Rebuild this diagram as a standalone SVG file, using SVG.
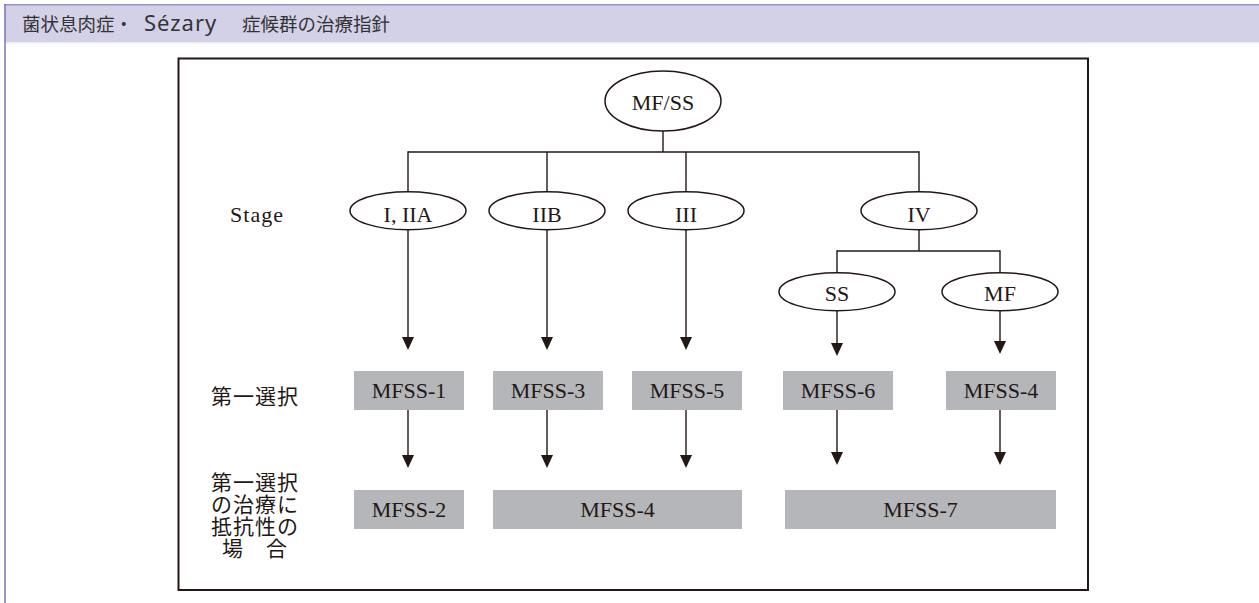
<svg xmlns="http://www.w3.org/2000/svg" width="1259" height="603" viewBox="0 0 1259 603">
<defs>
<style>
.ln{stroke:#231815;stroke-width:1.4;fill:none}
.ar{stroke:#231815;stroke-width:1.4;fill:none;marker-end:url(#ah)}
.el{fill:#fff;stroke:#231815;stroke-width:1.5}
.bx{fill:#b5b6b9}
.t{font-size:22px;fill:#231815;text-anchor:middle}
.j{font-size:21px;fill:#231815;text-anchor:middle;letter-spacing:1px}
.h{font-size:18.5px;fill:#333}
</style>
<marker id="ah" viewBox="0 0 13 12" refX="7" refY="6" markerWidth="13" markerHeight="12" markerUnits="userSpaceOnUse" orient="auto">
<path d="M0,0 L13,6 L0,12 Z" fill="#231815"/>
</marker>
</defs>
<rect x="0" y="0" width="1259" height="603" fill="#fff"/>
<g id="header">
<rect x="5" y="5" width="1254" height="37" fill="#d3d1e7"/>
<rect x="5" y="42" width="1254" height="1.5" fill="#ecebf4"/>
<line x1="4" y1="4.8" x2="1259" y2="4.8" stroke="#9a92c6" stroke-width="1.6"/>
<line x1="5" y1="4" x2="5" y2="603" stroke="#7c71b6" stroke-width="1.5"/>
<text class="h" font-family="'Noto Sans CJK JP', 'Noto Sans CJK SC', sans-serif" x="22" y="31">菌状息肉症・<tspan x="144" font-size="22" letter-spacing="1" font-family="'Noto Sans', 'Liberation Sans', sans-serif">Sézary</tspan><tspan x="242">症候群の治療指針</tspan></text>
</g>
<rect id="frame" x="178.5" y="58.5" width="909.5" height="531.5" fill="none" stroke="#231815" stroke-width="2"/>
<g id="labels" font-family="'Liberation Serif', 'DejaVu Serif', 'Times New Roman', serif">
<text class="t" x="257" y="222" letter-spacing="1">Stage</text>
<text class="j" font-family="'Noto Sans CJK JP', 'Noto Sans CJK SC', sans-serif" x="255" y="404">第一選択</text>
<text class="j" font-family="'Noto Sans CJK JP', 'Noto Sans CJK SC', sans-serif" x="255" y="490">第一選択<tspan x="255" dy="22">の治療に</tspan><tspan x="255" dy="22">抵抗性の</tspan><tspan x="255" dy="22">場　合</tspan></text>
</g>
<g id="connectors">
<line class="ln" x1="663" y1="131" x2="663" y2="152"/>
<line class="ln" x1="408" y1="152" x2="919" y2="152"/>
<line class="ln" x1="408" y1="151.3" x2="408" y2="192"/>
<line class="ln" x1="547" y1="152" x2="547" y2="192"/>
<line class="ln" x1="686" y1="152" x2="686" y2="192"/>
<line class="ln" x1="919" y1="151.3" x2="919" y2="192"/>
<line class="ar" x1="408" y1="229.7" x2="408" y2="344"/>
<line class="ar" x1="547" y1="229.7" x2="547" y2="344"/>
<line class="ar" x1="686" y1="229.7" x2="686" y2="344"/>
<line class="ln" x1="919" y1="229.7" x2="919" y2="251"/>
<line class="ln" x1="837" y1="251" x2="1000" y2="251"/>
<line class="ln" x1="837" y1="250.3" x2="837" y2="273"/>
<line class="ln" x1="1000" y1="250.3" x2="1000" y2="273"/>
<line class="ar" x1="837" y1="310.7" x2="837" y2="350"/>
<line class="ar" x1="1000" y1="310.7" x2="1000" y2="348"/>
<line class="ar" x1="408" y1="410" x2="408" y2="462"/>
<line class="ar" x1="547" y1="410" x2="547" y2="462"/>
<line class="ar" x1="686" y1="410" x2="686" y2="462"/>
<line class="ar" x1="837" y1="410" x2="837" y2="459"/>
<line class="ar" x1="1000" y1="410" x2="1000" y2="459"/>
</g>
<g id="nodes" font-family="'Liberation Serif', 'DejaVu Serif', 'Times New Roman', serif">
<g id="n-mfss"><ellipse class="el" cx="663" cy="101" rx="58" ry="30"/><text class="t" x="663" y="110">MF/SS</text></g>
<g id="n-i-iia"><ellipse class="el" cx="408" cy="210.7" rx="58" ry="19"/><text class="t" x="408" y="222">I, IIA</text></g>
<g id="n-iib"><ellipse class="el" cx="547" cy="210.7" rx="58" ry="19"/><text class="t" x="547" y="222">IIB</text></g>
<g id="n-iii"><ellipse class="el" cx="686" cy="210.7" rx="58" ry="19"/><text class="t" x="686" y="222">III</text></g>
<g id="n-iv"><ellipse class="el" cx="919" cy="210.7" rx="58" ry="19"/><text class="t" x="919" y="222">IV</text></g>
<g id="n-ss"><ellipse class="el" cx="837" cy="291.7" rx="58" ry="19"/><text class="t" x="837" y="301">SS</text></g>
<g id="n-mf"><ellipse class="el" cx="1000" cy="291.7" rx="58" ry="19"/><text class="t" x="1000" y="301">MF</text></g>
<g id="b-mfss1"><rect class="bx" x="354" y="371" width="110" height="39"/><text class="t" x="409" y="398">MFSS-1</text></g>
<g id="b-mfss3"><rect class="bx" x="493" y="371" width="110" height="39"/><text class="t" x="548" y="398">MFSS-3</text></g>
<g id="b-mfss5"><rect class="bx" x="632" y="371" width="110" height="39"/><text class="t" x="687" y="398">MFSS-5</text></g>
<g id="b-mfss6"><rect class="bx" x="783" y="371" width="110" height="39"/><text class="t" x="838" y="398">MFSS-6</text></g>
<g id="b-mfss4a"><rect class="bx" x="946" y="371" width="110" height="39"/><text class="t" x="1001" y="398">MFSS-4</text></g>
<g id="b-mfss2"><rect class="bx" x="354" y="490" width="110" height="39"/><text class="t" x="409" y="517">MFSS-2</text></g>
<g id="b-mfss4b"><rect class="bx" x="493" y="490" width="249" height="39"/><text class="t" x="617.5" y="517">MFSS-4</text></g>
<g id="b-mfss7"><rect class="bx" x="785" y="490" width="271" height="39"/><text class="t" x="920.5" y="517">MFSS-7</text></g>
</g>
</svg>
